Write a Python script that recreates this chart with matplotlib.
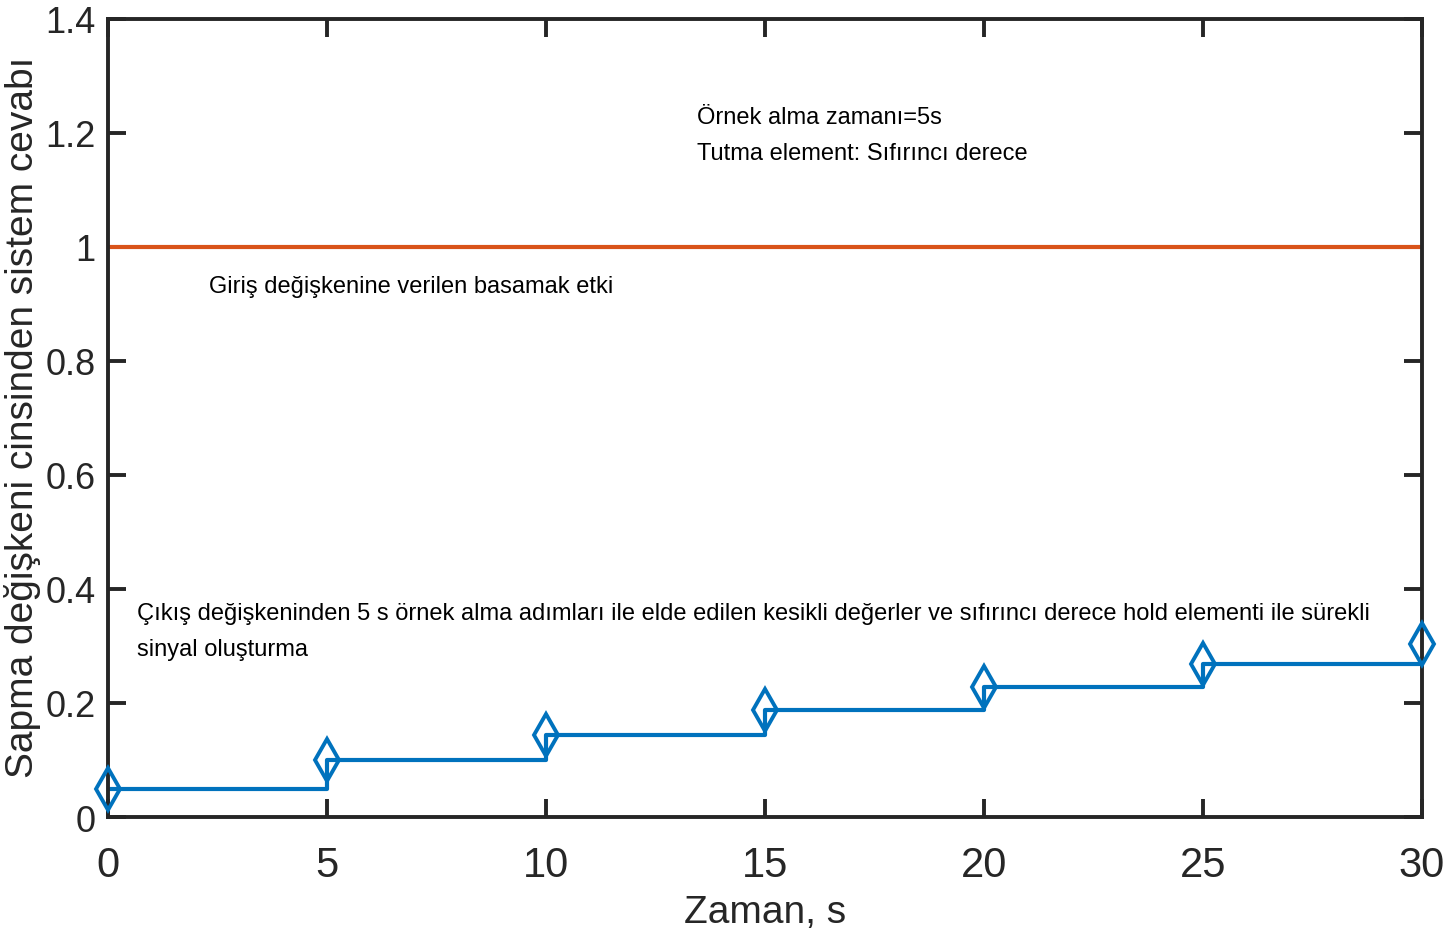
import matplotlib
matplotlib.use("Agg")
import matplotlib.pyplot as plt

plt.rcParams["font.family"] = ["Liberation Sans", "DejaVu Sans"]

# ornek alma anlari ve kesikli cikis degerleri
t_samples = [0, 5, 10, 15, 20, 25, 30]
y_samples = [0.049, 0.100, 0.144, 0.187, 0.228, 0.268, 0.303]
step_in = 1.0
x_ticks = [0, 5, 10, 15, 20, 25, 30]
y_ticks = [0, 0.2, 0.4, 0.6, 0.8, 1.0, 1.2, 1.4]
y_tick_labels = ["0", "0.2", "0.4", "0.6", "0.8", "1", "1.2", "1.4"]

fig = plt.figure(figsize=(14.47, 9.37), dpi=100)
ax = fig.add_axes([0.0746, 0.127, 0.9081, 0.8517])

ax.axhline(step_in, color="#D95319", lw=3)
# sifirinci derece tutma: son ornekten once biter
ax.step(t_samples[:-1] + [t_samples[-1]], y_samples[:-1] + [y_samples[-2]],
        where="post", color="#0072BD", lw=3)
ax.plot(t_samples, y_samples, ls="none", marker="d", ms=21, mfc="none",
        mec="#0072BD", mew=2.8, clip_on=False, zorder=5)

ax.set_xlim(0, 30)
ax.set_ylim(0, 1.4)
ax.set_xticks(x_ticks)
ax.set_yticks(y_ticks, y_tick_labels)
ax.tick_params(direction="in", length=13, width=2.8,
               top=True, right=True, colors="#262626")
ax.tick_params(axis="x", pad=20, labelsize=30)
ax.tick_params(axis="y", pad=9, labelsize=26)
for s in ax.spines.values():
    s.set_linewidth(2.8)
    s.set_color("#262626")

ax.set_xlabel("Zaman, s", fontsize=28, color="#262626")
ax.xaxis.set_label_coords(0.5, -0.097)
ax.set_ylabel("Sapma değişkeni cinsinden sistem cevabı", fontsize=28,
              color="#262626")
ax.yaxis.set_label_coords(-0.051, 0.502)

ax.text(13.45, 1.196, "Örnek alma zamanı=5s\nTutma element: Sıfırıncı derece",
        fontsize=17, va="center", linespacing=1.85)
ax.text(2.3, 0.932, "Giriş değişkenine verilen basamak etki", fontsize=17, va="center")
ax.text(0.66, 0.326, "Çıkış değişkeninden 5 s örnek alma adımları ile elde edilen kesikli "
        "değerler ve sıfırıncı derece hold elementi ile sürekli\nsinyal oluşturma",
        fontsize=17, va="center", linespacing=1.85)

fig.savefig("out.png", dpi=100)
